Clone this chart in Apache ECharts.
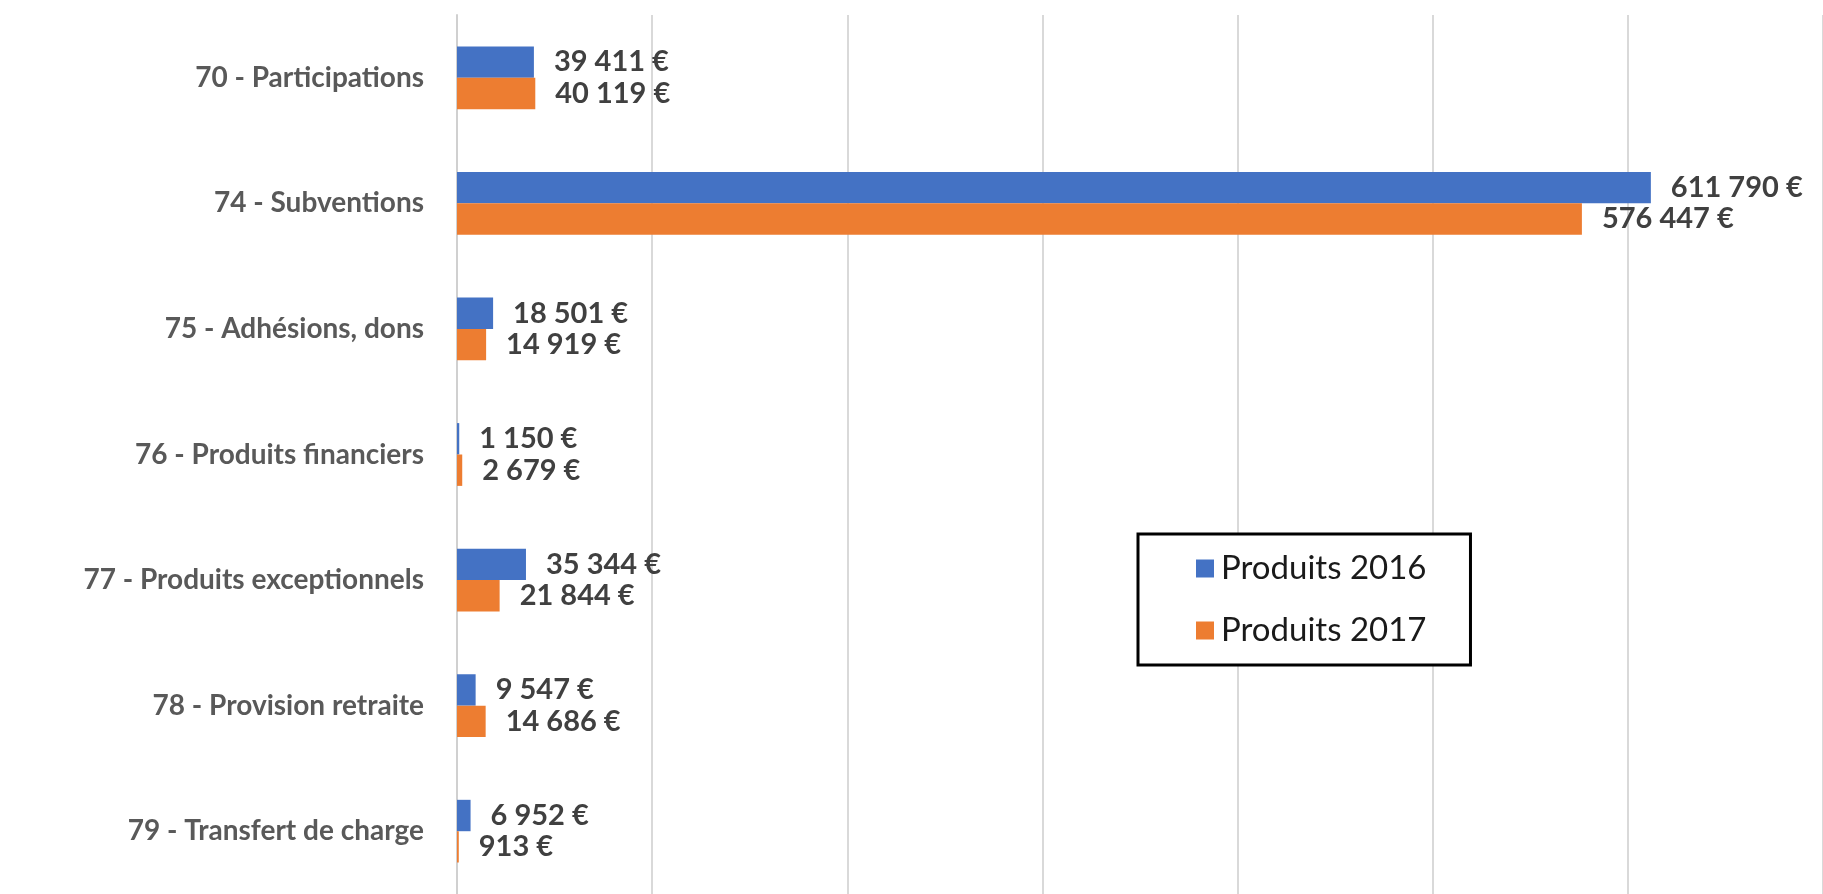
<!DOCTYPE html>
<html>
<head>
<meta charset="utf-8">
<script src="https://cdn.jsdelivr.net/npm/echarts@6/dist/echarts.min.js"></script>
<style>
html,body{margin:0;padding:0;background:#fff;}
#main{width:1823px;height:894px;}
</style>
</head>
<body>
<div id="main"></div>
<script>
const categories = ['70 - Participations','74 - Subventions','75 - Adhésions, dons','76 - Produits financiers','77 - Produits exceptionnels','78 - Provision retraite','79 - Transfert de charge'];
const seriesNames = ['Produits 2016','Produits 2017'];
const produits2016 = [39411, 611790, 18501, 1150, 35344, 9547, 6952];
const produits2017 = [40119, 576447, 14919, 2679, 21844, 14686, 913];

function fmt(v){
  return String(v).replace(/\B(?=(\d{3})+(?!\d))/g, ' ') + ' €';
}
const FONT = 'Lato, "Open Sans", sans-serif';
const chart = echarts.init(document.getElementById('main'));
const labelStyle = {
  show: true,
  position: 'right',
  distance: 20,
  fontFamily: FONT,
  fontWeight: 'bold',
  fontSize: 29,
  color: '#404040',
  formatter: p => fmt(p.value)
};
chart.setOption({
  animation: false,
  backgroundColor: '#fff',
  grid: {left: 457, right: 0, top: 15, bottom: 0, containLabel: false},
  legend: {
    orient: 'vertical',
    left: 1138,
    top: 534,
    padding: [18, 44, 18, 58],
    itemGap: 29,
    itemWidth: 18,
    itemHeight: 18,
    backgroundColor: '#fff',
    borderColor: '#000',
    borderWidth: 3,
    borderRadius: 0,
    icon: 'rect',
    textStyle: {fontFamily: FONT, fontSize: 33, color: '#1a1a1a', padding: [0,0,0,2]},
    data: seriesNames
  },
  xAxis: {
    type: 'value',
    min: 0,
    max: 700000,
    interval: 100000,
    axisLabel: {show: false},
    axisLine: {show: false},
    axisTick: {show: false},
    splitLine: {show: true, lineStyle: {color: '#d9d9d9', width: 2}}
  },
  yAxis: {
    type: 'category',
    inverse: true,
    data: categories,
    axisTick: {show: false},
    axisLine: {show: true, lineStyle: {color: '#d0d0d0', width: 2}},
    axisLabel: {
      margin: 33,
      fontFamily: FONT,
      fontWeight: 'bold',
      fontSize: 28,
      color: '#595959'
    }
  },
  series: [
    {name: seriesNames[0], type: 'bar', data: produits2016, barGap: '0%', barCategoryGap: '50%',
     itemStyle: {color: '#4472C4'}, label: labelStyle},
    {name: seriesNames[1], type: 'bar', data: produits2017, barGap: '0%', barCategoryGap: '50%',
     itemStyle: {color: '#ED7D31'}, label: labelStyle}
  ]
});
</script>
</body>
</html>
